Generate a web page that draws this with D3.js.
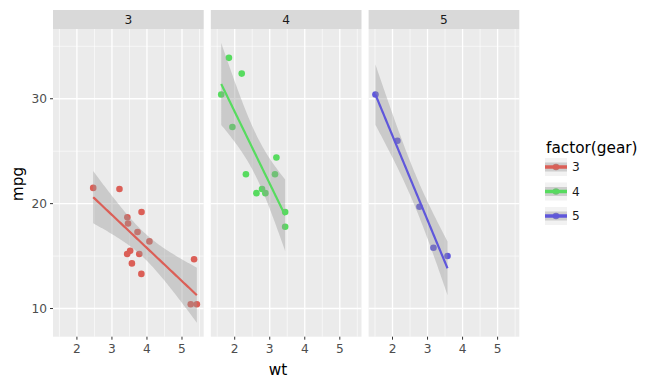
<!DOCTYPE html>
<html>
<head>
<meta charset="utf-8">
<script src="https://cdn.jsdelivr.net/npm/d3@7.9.0/dist/d3.min.js"></script>
<style>
  body { margin: 0; background: #fff; }
  svg { display: block; font-family: "DejaVu Sans", sans-serif; }
</style>
</head>
<body>
<svg id="chart" width="664" height="388"></svg>
<script>
// mtcars: weight and mpg, split by gear
const gears = ["3", "4", "5"];
const wt3 = [3.215, 3.440, 3.460, 3.570, 4.070, 3.730, 3.780, 5.250, 5.424, 5.345, 2.465, 3.520, 3.435, 3.840, 3.845];
const mpg3 = [21.4, 18.7, 18.1, 14.3, 16.4, 17.3, 15.2, 10.4, 10.4, 14.7, 21.5, 15.5, 15.2, 13.3, 19.2];
const wt4 = [2.620, 2.875, 2.320, 3.190, 3.150, 3.440, 3.440, 2.200, 1.615, 1.835, 1.935, 2.780];
const mpg4 = [21.0, 21.0, 22.8, 24.4, 22.8, 19.2, 17.8, 32.4, 30.4, 33.9, 27.3, 21.4];
const wt5 = [2.140, 1.513, 3.170, 2.770, 3.570];
const mpg5 = [26.0, 30.4, 15.8, 19.7, 15.0];
const xTicks = [2, 3, 4, 5];
const yTicks = [10, 20, 30];
const colors = ["#db5f57", "#57db5f", "#5f57db"];
// t(0.975) for df = n - 2
const tCrit = [2.1604, 2.2281, 3.1824];

const groups = [
  { gear: "3", wt: wt3, mpg: mpg3 },
  { gear: "4", wt: wt4, mpg: mpg4 },
  { gear: "5", wt: wt5, mpg: mpg5 }
];

// linear fit with 95% confidence band, like geom_smooth(method="lm")
function fitLm(g, t) {
  const n = g.wt.length;
  const mx = d3.mean(g.wt), my = d3.mean(g.mpg);
  let sxx = 0, sxy = 0;
  g.wt.forEach((x, i) => { sxx += (x - mx) ** 2; sxy += (x - mx) * (g.mpg[i] - my); });
  const b = sxy / sxx, a = my - b * mx;
  let sse = 0;
  g.wt.forEach((x, i) => { sse += (g.mpg[i] - a - b * x) ** 2; });
  const s = Math.sqrt(sse / (n - 2));
  const [x0, x1] = d3.extent(g.wt);
  return d3.range(81).map(k => {
    const x = x0 + (x1 - x0) * k / 80;
    const y = a + b * x;
    const se = s * Math.sqrt(1 / n + (x - mx) ** 2 / sxx);
    return { x, y, lo: y - t * se, hi: y + t * se };
  });
}
groups.forEach((g, i) => { g.fit = fitLm(g, tCrit[i]); });

const svg = d3.select("#chart");
const panelW = 150.7, panelGap = 7.1, panelLeft = 53, panelTop = 29, panelBottom = 336.7, stripH = 19;

// shared scales with 5% expansion
const allWt = [...wt3, ...wt4, ...wt5];
const xr = d3.extent(allWt);
const xpad = (xr[1] - xr[0]) * 0.05;
const allY = [...mpg3, ...mpg4, ...mpg5];
groups.forEach(g => g.fit.forEach(d => { allY.push(d.lo, d.hi); }));
const yr = d3.extent(allY);
const ypad = (yr[1] - yr[0]) * 0.05;

const y = d3.scaleLinear().domain([yr[0] - ypad, yr[1] + ypad]).range([panelBottom, panelTop]);

groups.forEach((g, i) => {
  const left = panelLeft + i * (panelW + panelGap);
  const x = d3.scaleLinear().domain([xr[0] - xpad, xr[1] + xpad]).range([left, left + panelW]);

  // strip
  svg.append("rect").attr("x", left).attr("y", panelTop - stripH).attr("width", panelW).attr("height", stripH).attr("fill", "#d9d9d9");
  svg.append("text").attr("x", left + panelW / 2).attr("y", panelTop - 5.5).attr("text-anchor", "middle")
    .attr("font-size", 12.2).attr("fill", "#1a1a1a").text(g.gear);

  // panel background and grid
  const p = svg.append("g");
  p.append("rect").attr("x", left).attr("y", panelTop).attr("width", panelW).attr("height", panelBottom - panelTop).attr("fill", "#ebebeb");
  const xMinor = [1.5, 2.5, 3.5, 4.5, 5.5];
  const yMinor = [15, 25, 35];
  p.selectAll(".xm").data(xMinor).join("line").attr("x1", d => x(d)).attr("x2", d => x(d))
    .attr("y1", panelTop).attr("y2", panelBottom).attr("stroke", "#fff").attr("stroke-width", 0.6);
  p.selectAll(".ym").data(yMinor).join("line").attr("x1", left).attr("x2", left + panelW)
    .attr("y1", d => y(d)).attr("y2", d => y(d)).attr("stroke", "#fff").attr("stroke-width", 0.6);
  p.selectAll(".xM").data(xTicks).join("line").attr("x1", d => x(d)).attr("x2", d => x(d))
    .attr("y1", panelTop).attr("y2", panelBottom).attr("stroke", "#fff").attr("stroke-width", 1.3);
  p.selectAll(".yM").data(yTicks).join("line").attr("x1", left).attr("x2", left + panelW)
    .attr("y1", d => y(d)).attr("y2", d => y(d)).attr("stroke", "#fff").attr("stroke-width", 1.3);

  // points
  p.selectAll("circle").data(g.wt.map((w, k) => [w, g.mpg[k]])).join("circle")
    .attr("cx", d => x(d[0])).attr("cy", d => y(d[1])).attr("r", 3.3).attr("fill", colors[i]);

  // confidence band then fitted line
  p.append("path").datum(g.fit)
    .attr("d", d3.area().x(d => x(d.x)).y0(d => y(d.lo)).y1(d => y(d.hi)))
    .attr("fill", "#999999").attr("fill-opacity", 0.4);
  p.append("path").datum(g.fit)
    .attr("d", d3.line().x(d => x(d.x)).y(d => y(d.y)))
    .attr("fill", "none").attr("stroke", colors[i]).attr("stroke-width", 2.2);

  // x axis
  const xa = svg.append("g");
  xa.selectAll("line").data(xTicks).join("line").attr("x1", d => x(d)).attr("x2", d => x(d))
    .attr("y1", panelBottom).attr("y2", panelBottom + 3).attr("stroke", "#333").attr("stroke-width", 1);
  xa.selectAll("text").data(xTicks).join("text").attr("x", d => x(d)).attr("y", 353)
    .attr("text-anchor", "middle").attr("font-size", 12.2).attr("fill", "#4d4d4d").text(d => d);
});

// y axis
const ya = svg.append("g");
ya.selectAll("line").data(yTicks).join("line").attr("x1", panelLeft - 3).attr("x2", panelLeft)
  .attr("y1", d => y(d)).attr("y2", d => y(d)).attr("stroke", "#333").attr("stroke-width", 1);
ya.selectAll("text").data(yTicks).join("text").attr("x", panelLeft - 6).attr("y", d => y(d) + 4.3)
  .attr("text-anchor", "end").attr("font-size", 12.2).attr("fill", "#4d4d4d").text(d => d);

// axis titles
svg.append("text").attr("x", 278).attr("y", 375).attr("text-anchor", "middle").attr("font-size", 15.3).text("wt");
svg.append("text").attr("transform", "translate(23,184) rotate(-90)").attr("text-anchor", "middle")
  .attr("font-size", 15.3).text("mpg");

// legend
const lg = svg.append("g");
lg.append("text").attr("x", 546).attr("y", 152.5).attr("font-size", 15.3).text("factor(gear)");
gears.forEach((gv, i) => {
  const cy = 167 + i * 24.5;
  const k = lg.append("g");
  k.append("rect").attr("x", 545).attr("y", cy - 9).attr("width", 22).attr("height", 18).attr("fill", "#f2f2f2");
  k.append("circle").attr("cx", 556).attr("cy", cy).attr("r", 3.3).attr("fill", colors[i]);
  k.append("rect").attr("x", 545).attr("y", cy - 4.5).attr("width", 22).attr("height", 9).attr("fill", "#999999").attr("fill-opacity", 0.4);
  k.append("line").attr("x1", 545).attr("x2", 567).attr("y1", cy).attr("y2", cy).attr("stroke", colors[i]).attr("stroke-width", 3.5);
  k.append("text").attr("x", 572).attr("y", cy + 4.4).attr("font-size", 12.2).attr("fill", "#1a1a1a").text(gv);
});
</script>
</body>
</html>
